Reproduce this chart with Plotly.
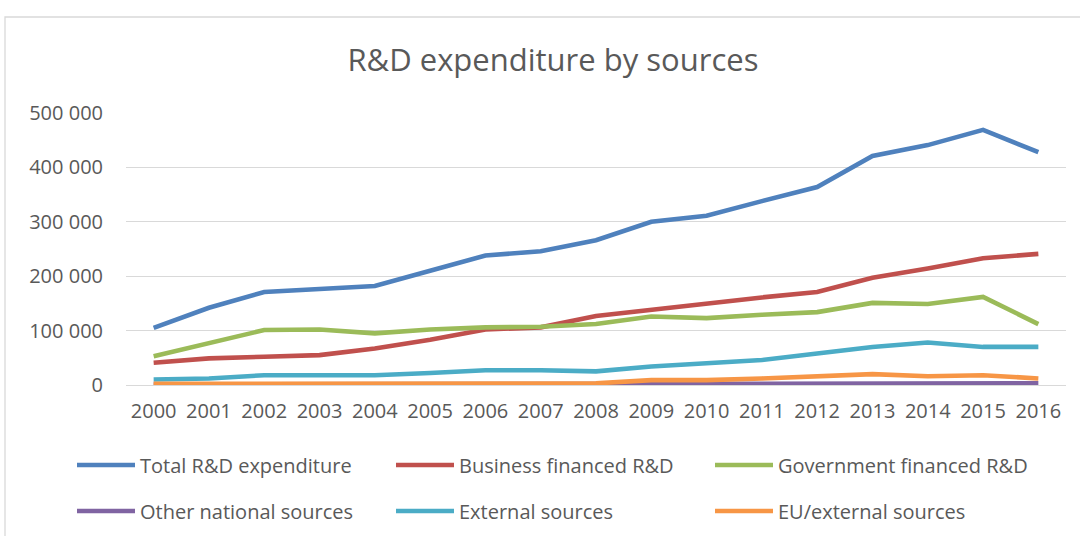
import plotly.graph_objects as go

# Years on the category axis
years = [str(y) for y in range(2000, 2017)]

# R&D expenditure by source of funds
total_rd = [105000, 142000, 171000, 176000, 182000, 210000, 238000, 246000, 266000,
            300000, 311000, 338000, 364000, 421000, 441000, 469000, 428000]
business_rd = [41000, 49000, 52000, 55000, 67000, 83000, 102000, 106000, 127000,
               139000, 149000, 161000, 171000, 197000, 214000, 233000, 241000]
government_rd = [53000, 77000, 101000, 102000, 95000, 102000, 106000, 107000, 112000,
                 126000, 123000, 129000, 134000, 151000, 149000, 162000, 112000]
other_national = [1000, 1000, 1000, 1000, 1000, 1000, 1000, 1000, 1000,
                  3000, 3000, 3000, 3000, 3000, 3000, 3000, 3000]
external = [10000, 12000, 18000, 19000, 18000, 22000, 27000, 27000, 25000,
            34000, 40000, 46000, 58000, 70000, 78000, 70000, 70000]
eu_external = [2000, 2000, 2000, 2000, 2000, 2000, 2000, 2000, 3000,
               9000, 9000, 12000, 15000, 20000, 16000, 18000, 12000]

series_names = ["Total R&D expenditure", "Business financed R&D", "Government financed R&D",
                "Other national sources", "External sources", "EU/external sources"]
series_values = [total_rd, business_rd, government_rd, other_national, external, eu_external]
series_colors = ["#4F81BD", "#C0504D", "#9BBB59", "#8064A2", "#4BACC6", "#F79646"]

FONT = "Open Sans"
TEXT = "#595959"
GRID = "#D9D9D9"

W, H = 1080, 536
L, R, T, B = 126, 14, 113, 151
pw, ph = W - L - R, H - T - B

# legend grid: three columns, two rows (pixel positions in the page)
col_x = [72, 391, 710]
row_y = [465, 511]

fig = go.Figure()
layout_legends = {}
for i, (name, vals, color) in enumerate(zip(series_names, series_values, series_colors)):
    key = "legend" if i == 0 else f"legend{i + 1}"
    fig.add_trace(go.Scatter(
        x=years, y=vals, name=name, mode="lines",
        line=dict(color=color, width=4.6),
        legend=key, showlegend=True,
    ))
    layout_legends[key] = dict(
        x=col_x[i % 3] / W, y=1 - row_y[i // 3] / H,
        xref="container", yref="container",
        xanchor="left", yanchor="middle",
        itemwidth=58, font=dict(family=FONT, size=20, color=TEXT),
        bgcolor="rgba(0,0,0,0)",
    )

def px_x(p):
    return (p - L) / pw

def px_y(p):
    return (H - B - p) / ph

fig.update_layout(
    width=W, height=H,
    showlegend=True,
    margin=dict(l=L, r=R, t=T, b=B, autoexpand=False),
    paper_bgcolor="white", plot_bgcolor="white",
    separators=". ",
    font=dict(family=FONT, color=TEXT),
    title=dict(
        text="R&D expenditure by sources",
        font=dict(family=FONT, size=31, color=TEXT),
        x=0.512, xanchor="center", y=1 - 60 / H, yanchor="middle",
    ),
    xaxis=dict(
        type="category", range=[-0.5, 16.5], showgrid=False, showline=False,
        ticks="", ticklabelstandoff=12,
        tickfont=dict(family=FONT, size=20, color=TEXT),
        fixedrange=True,
    ),
    yaxis=dict(
        range=[0, 500000], dtick=100000, tickformat=",d",
        showgrid=True, gridcolor=GRID, gridwidth=1.3,
        zeroline=True, zerolinecolor=GRID, zerolinewidth=1.3,
        showline=False, ticks="", ticklabelstandoff=22,
        tickfont=dict(family=FONT, size=20, color=TEXT),
        fixedrange=True,
    ),
    shapes=[dict(
        type="rect", xref="paper", yref="paper",
        x0=px_x(5), x1=px_x(W + 10), y0=px_y(H + 10), y1=px_y(17),
        line=dict(color=GRID, width=1.3), fillcolor="rgba(0,0,0,0)", layer="below",
    )],
    **layout_legends,
)

fig.write_html("out.html")
